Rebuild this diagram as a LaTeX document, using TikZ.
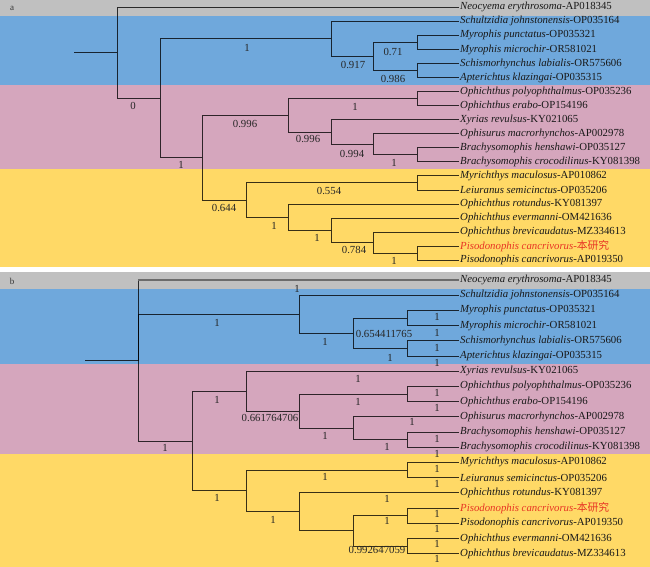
\documentclass[tikz,border=0pt]{standalone}
\usepackage{fontspec}
\setmainfont{Liberation Serif}
\newfontfamily\cjk{Noto Sans CJK SC}
\definecolor{bandgray}{RGB}{192,192,192}
\definecolor{bandblue}{RGB}{111,168,220}
\definecolor{bandpink}{RGB}{213,166,189}
\definecolor{bandyellow}{RGB}{255,217,102}
\definecolor{redlab}{RGB}{232,52,36}
\begin{document}
\begin{tikzpicture}[x=1pt,y=-1pt,
  br/.style={draw=black, draw opacity=0.78, line width=0.9pt},
  tip/.style={anchor=west, inner sep=1pt, font=\fontsize{10.8}{12}\selectfont, text=black!90},
  lab/.style={inner sep=0pt, font=\fontsize{10.8}{12}\selectfont, text=black!85},
  panel/.style={inner sep=0pt, font=\fontsize{9}{10}\selectfont, text=black!80}]
\useasboundingbox (0,0) rectangle (650,567);
% bands
\fill[white] (0,0) rectangle (650,567);
\fill[bandgray] (0,0) rectangle (650,16);
\fill[bandblue] (0,16) rectangle (650,85);
\fill[bandpink] (0,85) rectangle (650,169);
\fill[bandyellow] (0,169) rectangle (650,267);
\fill[bandgray] (0,272) rectangle (650,289);
\fill[bandblue] (0,289) rectangle (650,364);
\fill[bandpink] (0,364) rectangle (650,454);
\fill[bandyellow] (0,454) rectangle (650,567);
\node[panel] (pa) at (12,8) {a};
\node[panel] (pb) at (12,281) {b};

% ---------------- panel a tips
\node[tip] (a0) at (459,7.3) {\textit{Neocyema erythrosoma}-AP018345};
\node[tip] (a1) at (459,21.35) {\textit{Schultzidia johnstonensis}-OP035164};
\node[tip] (a2) at (459,35.4) {\textit{Myrophis punctatus}-OP035321};
\node[tip] (a3) at (459,49.45) {\textit{Myrophis microchir}-OR581021};
\node[tip] (a4) at (459,63.5) {\textit{Schismorhynchus labialis}-OR575606};
\node[tip] (a5) at (459,77.55) {\textit{Apterichtus klazingai}-OP035315};
\node[tip] (a6) at (459,91.6) {\textit{Ophichthus polyophthalmus}-OP035236};
\node[tip] (a7) at (459,105.65) {\textit{Ophichthus erabo}-OP154196};
\node[tip] (a8) at (459,119.7) {\textit{Xyrias revulsus}-KY021065};
\node[tip] (a9) at (459,133.75) {\textit{Ophisurus macrorhynchos}-AP002978};
\node[tip] (a10) at (459,147.8) {\textit{Brachysomophis henshawi}-OP035127};
\node[tip] (a11) at (459,161.85) {\textit{Brachysomophis crocodilinus}-KY081398};
\node[tip] (a12) at (459,175.9) {\textit{Myrichthys maculosus}-AP010862};
\node[tip] (a13) at (459,189.95) {\textit{Leiuranus semicinctus}-OP035206};
\node[tip] (a14) at (459,204.0) {\textit{Ophichthus rotundus}-KY081397};
\node[tip] (a15) at (459,218.05) {\textit{Ophichthus evermanni}-OM421636};
\node[tip] (a16) at (459,232.1) {\textit{Ophichthus brevicaudatus}-MZ334613};
\node[tip, text=redlab] (a17) at (459,246.15) {\textit{Pisodonophis cancrivorus}-{\cjk 本研究}};
\node[tip] (a18) at (459,260.2) {\textit{Pisodonophis cancrivorus}-AP019350};

% panel a internal nodes
\coordinate (aS) at (74,52.8);
\coordinate (aR) at (117,52.8);
\coordinate (aN0) at (160,98.3);
\coordinate (aB) at (331,38.91);
\coordinate (aC) at (373,56.48);
\coordinate (aM1) at (417,42.43);
\coordinate (aM2) at (417,70.53);
\coordinate (aN1) at (202,157.68);
\coordinate (aP) at (288,115.31);
\coordinate (aP1) at (417,98.63);
\coordinate (aP2) at (331,131.99);
\coordinate (aP3) at (373,144.29);
\coordinate (aP4) at (417,154.83);
\coordinate (aY) at (246,200.05);
\coordinate (aY1) at (417,182.93);
\coordinate (aY2) at (288,217.17);
\coordinate (aY3) at (331,230.34);
\coordinate (aY4) at (373,242.64);
\coordinate (aY5) at (417,253.18);

\draw[br] (aS) -- (aR);
\draw[br] (aR) |- (a0.west);
\draw[br] (aR) |- (aN0);
\draw[br] (aN0) |- (aB);
\draw[br] (aN0) |- (aN1);
\draw[br] (aB) |- (a1.west);
\draw[br] (aB) |- (aC);
\draw[br] (aC) |- (aM1);
\draw[br] (aC) |- (aM2);
\draw[br] (aM1) |- (a2.west);
\draw[br] (aM1) |- (a3.west);
\draw[br] (aM2) |- (a4.west);
\draw[br] (aM2) |- (a5.west);
\draw[br] (aN1) |- (aP);
\draw[br] (aN1) |- (aY);
\draw[br] (aP) |- (aP1);
\draw[br] (aP) |- (aP2);
\draw[br] (aP1) |- (a6.west);
\draw[br] (aP1) |- (a7.west);
\draw[br] (aP2) |- (a8.west);
\draw[br] (aP2) |- (aP3);
\draw[br] (aP3) |- (a9.west);
\draw[br] (aP3) |- (aP4);
\draw[br] (aP4) |- (a10.west);
\draw[br] (aP4) |- (a11.west);
\draw[br] (aY) |- (aY1);
\draw[br] (aY) |- (aY2);
\draw[br] (aY1) |- (a12.west);
\draw[br] (aY1) |- (a13.west);
\draw[br] (aY2) |- (a14.west);
\draw[br] (aY2) |- (aY3);
\draw[br] (aY3) |- (a15.west);
\draw[br] (aY3) |- (aY4);
\draw[br] (aY4) |- (a16.west);
\draw[br] (aY4) |- (aY5);
\draw[br] (aY5) |- (a17.west);
\draw[br] (aY5) |- (a18.west);

% panel a support labels
\node[lab] (la1) at (133,106) {0};
\node[lab] (la2) at (247,48) {1};
\node[lab] (la3) at (353,65) {0.917};
\node[lab] (la4) at (393,52) {0.71};
\node[lab] (la5) at (393,79) {0.986};
\node[lab] (la6) at (181,165) {1};
\node[lab] (la7) at (245,124) {0.996};
\node[lab] (la8) at (355,107) {1};
\node[lab] (la9) at (308,139) {0.996};
\node[lab] (la10) at (352,154) {0.994};
\node[lab] (la11) at (394,163) {1};
\node[lab] (la12) at (224,208) {0.644};
\node[lab] (la13) at (329,191) {0.554};
\node[lab] (la14) at (274,226) {1};
\node[lab] (la15) at (317,238) {1};
\node[lab] (la16) at (354,250) {0.784};
\node[lab] (la17) at (394,261) {1};

% ---------------- panel b tips
\node[tip] (b0) at (459,280) {\textit{Neocyema erythrosoma}-AP018345};
\node[tip] (b1) at (459,295.2) {\textit{Schultzidia johnstonensis}-OP035164};
\node[tip] (b2) at (459,310.4) {\textit{Myrophis punctatus}-OP035321};
\node[tip] (b3) at (459,325.6) {\textit{Myrophis microchir}-OR581021};
\node[tip] (b4) at (459,340.8) {\textit{Schismorhynchus labialis}-OR575606};
\node[tip] (b5) at (459,356.0) {\textit{Apterichtus klazingai}-OP035315};
\node[tip] (b6) at (459,371.2) {\textit{Xyrias revulsus}-KY021065};
\node[tip] (b7) at (459,386.4) {\textit{Ophichthus polyophthalmus}-OP035236};
\node[tip] (b8) at (459,401.6) {\textit{Ophichthus erabo}-OP154196};
\node[tip] (b9) at (459,416.8) {\textit{Ophisurus macrorhynchos}-AP002978};
\node[tip] (b10) at (459,432.0) {\textit{Brachysomophis henshawi}-OP035127};
\node[tip] (b11) at (459,447.2) {\textit{Brachysomophis crocodilinus}-KY081398};
\node[tip] (b12) at (459,462.4) {\textit{Myrichthys maculosus}-AP010862};
\node[tip] (b13) at (459,477.6) {\textit{Leiuranus semicinctus}-OP035206};
\node[tip] (b14) at (459,492.8) {\textit{Ophichthus rotundus}-KY081397};
\node[tip, text=redlab] (b15) at (459,508.0) {\textit{Pisodonophis cancrivorus}-{\cjk 本研究}};
\node[tip] (b16) at (459,523.2) {\textit{Pisodonophis cancrivorus}-AP019350};
\node[tip] (b17) at (459,538.4) {\textit{Ophichthus evermanni}-OM421636};
\node[tip] (b18) at (459,553.6) {\textit{Ophichthus brevicaudatus}-MZ334613};

% panel b internal nodes
\coordinate (bS) at (85,360.5);
\coordinate (bR) at (138,360.5);
\coordinate (bB) at (299,314.2);
\coordinate (bC) at (353,333.2);
\coordinate (bM1) at (407,318.0);
\coordinate (bM2) at (407,348.4);
\coordinate (bN) at (192,441.0);
\coordinate (bP) at (246,391.15);
\coordinate (bP2) at (299,411.1);
\coordinate (bP3) at (407,394.0);
\coordinate (bP4) at (353,428.2);
\coordinate (bP5) at (407,439.6);
\coordinate (bY) at (246,490.9);
\coordinate (bY1) at (407,470.0);
\coordinate (bY2) at (299,511.8);
\coordinate (bY3) at (353,530.8);
\coordinate (bY4) at (407,515.6);
\coordinate (bY5) at (407,546.0);

\draw[br] (bS) -- (bR);
\draw[br] (bR) |- (bB);
\draw[br] (bR) |- (bN);
\draw[br] (bR) -- (bR |- b0.west);
\draw[draw=black!58, line width=2.2pt] (bR |- b0.west) -- (b0.west);
\draw[br] (bB) |- (b1.west);
\draw[br] (bB) |- (bC);
\draw[br] (bC) |- (bM1);
\draw[br] (bC) |- (bM2);
\draw[br] (bM1) |- (b2.west);
\draw[br] (bM1) |- (b3.west);
\draw[br] (bM2) |- (b4.west);
\draw[br] (bM2) |- (b5.west);
\draw[br] (bN) |- (bP);
\draw[br] (bN) |- (bY);
\draw[br] (bP) |- (b6.west);
\draw[br] (bP) |- (bP2);
\draw[br] (bP2) |- (bP3);
\draw[br] (bP2) |- (bP4);
\draw[br] (bP3) |- (b7.west);
\draw[br] (bP3) |- (b8.west);
\draw[br] (bP4) |- (b9.west);
\draw[br] (bP4) |- (bP5);
\draw[br] (bP5) |- (b10.west);
\draw[br] (bP5) |- (b11.west);
\draw[br] (bY) |- (bY1);
\draw[br] (bY) |- (bY2);
\draw[br] (bY1) |- (b12.west);
\draw[br] (bY1) |- (b13.west);
\draw[br] (bY2) |- (b14.west);
\draw[br] (bY2) |- (bY3);
\draw[br] (bY3) |- (bY4);
\draw[br] (bY3) |- (bY5);
\draw[br] (bY4) |- (b15.west);
\draw[br] (bY4) |- (b16.west);
\draw[br] (bY5) |- (b17.west);
\draw[br] (bY5) |- (b18.west);

% panel b support labels
\node[lab] (lb1) at (297,289) {1};
\node[lab] (lb2) at (217,323) {1};
\node[lab] (lb3) at (325,342) {1};
\node[lab] (lb4) at (384,334) {0.654411765};
\node[lab] (lb5) at (390,358) {1};
\node[lab] (lb6) at (437,317) {1};
\node[lab] (lb7) at (437,332.5) {1};
\node[lab] (lb8) at (437,347.5) {1};
\node[lab] (lb9) at (437,362.5) {1};
\node[lab] (lb10) at (358,379) {1};
\node[lab] (lb11) at (217,400) {1};
\node[lab] (lb12) at (270,418) {0.661764706};
\node[lab] (lb13) at (358,402) {1};
\node[lab] (lb14) at (437,393) {1};
\node[lab] (lb15) at (437,408) {1};
\node[lab] (lb16) at (325,436) {1};
\node[lab] (lb17) at (412,422) {1};
\node[lab] (lb18) at (387,447) {1};
\node[lab] (lb19) at (437,438.5) {1};
\node[lab] (lb20) at (437,453.5) {1};
\node[lab] (lb21) at (165,448) {1};
\node[lab] (lb22) at (217,498) {1};
\node[lab] (lb23) at (325,477) {1};
\node[lab] (lb24) at (437,468.5) {1};
\node[lab] (lb25) at (437,483.5) {1};
\node[lab] (lb26) at (273,520) {1};
\node[lab] (lb27) at (387,499) {1};
\node[lab] (lb28) at (387,521) {1};
\node[lab] (lb29) at (437,514) {1};
\node[lab] (lb30) at (437,529) {1};
\node[lab] (lb31) at (377,550) {0.992647059};
\node[lab] (lb32) at (437,544) {1};
\node[lab] (lb33) at (437,559) {1};
\end{tikzpicture}
\end{document}
